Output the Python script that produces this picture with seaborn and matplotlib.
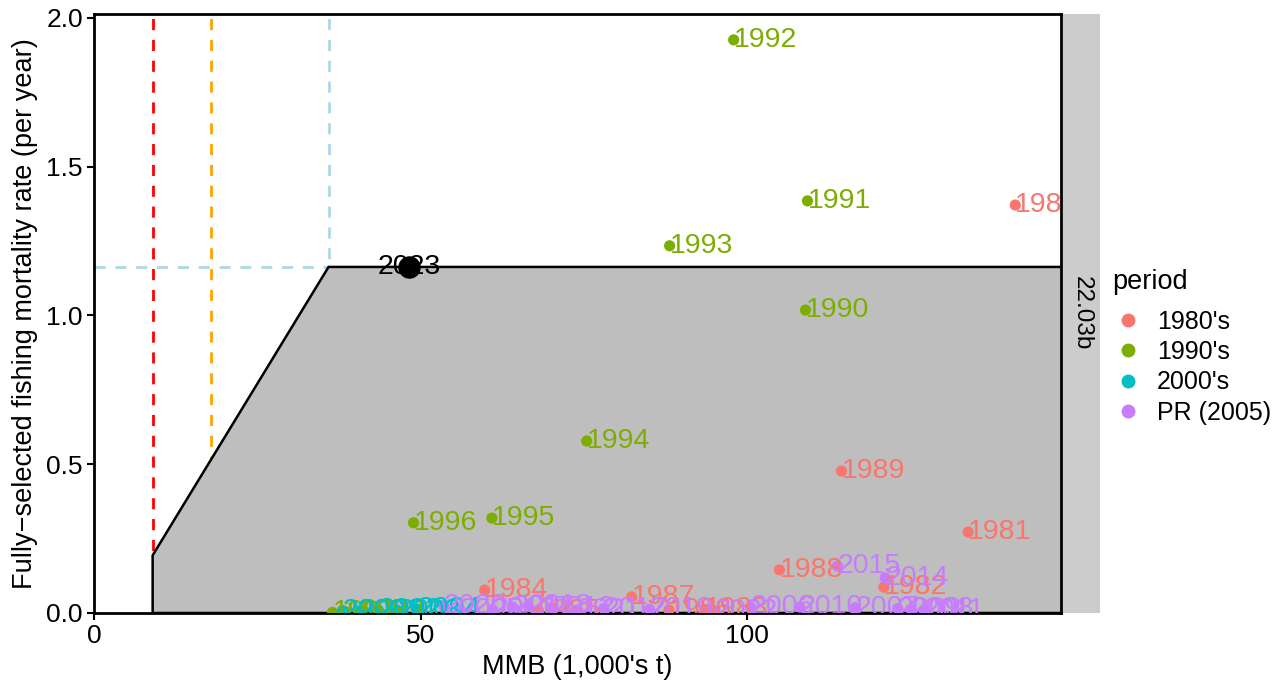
import matplotlib
matplotlib.use("Agg")
from matplotlib import pyplot as plt
from matplotlib.lines import Line2D
import seaborn as sns
import pandas as pd

years = list(range(1980, 2023))
mmb = [141.0, 133.8, 120.9, 93.5, 59.8, 68.0, 88.0, 82.3, 104.9, 114.4,
       108.9, 109.2, 97.9, 88.1, 75.4, 60.9, 48.9, 36.5, 38.5, 41.0,
       38.0, 40.5, 43.5, 46.5, 49.5,
       56.0, 100.5, 116.5, 125.0, 123.0, 108.0, 127.0, 70.0, 61.0, 121.1,
       113.8, 64.0, 78.0, 66.5, 85.0, 53.5, 74.0, 95.0]
fmort = [1.371, 0.272, 0.087, 0.012, 0.077, 0.008, 0.010, 0.054, 0.145, 0.477,
         1.018, 1.385, 1.926, 1.234, 0.578, 0.319, 0.303, 0.002, 0.004, 0.006,
         0.008, 0.006, 0.010, 0.008, 0.012,
         0.010, 0.020, 0.018, 0.012, 0.015, 0.020, 0.010, 0.018, 0.012, 0.118,
         0.158, 0.020, 0.015, 0.022, 0.012, 0.025, 0.010, 0.008]
period = ["1980's"] * 10 + ["1990's"] * 10 + ["2000's"] * 5 + ["PR (2005)"] * 18
period_order = ["1980's", "1990's", "2000's", "PR (2005)"]
period_colors = ["#F8766D", "#7CAE00", "#00BFC4", "#C77CFF"]

cur_year = 2023
cur_mmb = 48.2
cur_f = 1.163

bmsy = 35.9
fofl = 1.163
alpha = 0.1
beta = 0.25
xmax = 148.0

df = pd.DataFrame({"year": years, "mmb": mmb, "f": fmort, "period": period})
pal = dict(zip(period_order, period_colors))

plt.rcParams['font.family'] = ['Liberation Sans', 'DejaVu Sans']
fig = plt.figure(figsize=(12.84, 6.86), dpi=100)
ax = fig.add_axes([94 / 1284, 73 / 686, 967 / 1284, 599 / 686])

# reference lines
dash = (0, (4, 3.5))
ax.axvline(beta * bmsy, color='red', ls=dash, lw=2, zorder=1)
ax.axvline(0.5 * bmsy, color='orange', ls=dash, lw=2, zorder=1)
ax.axvline(bmsy, color='lightblue', ls=dash, lw=2, zorder=1)
ax.axhline(fofl, color='lightblue', ls=dash, lw=2, zorder=1)

# control rule polygon
f_beta = fofl * (beta - alpha) / (1 - alpha)
hcr_x = [beta * bmsy, beta * bmsy, bmsy, xmax + 5, xmax + 5]
hcr_y = [0, f_beta, fofl, fofl, 0]
ax.fill(hcr_x, hcr_y, facecolor='#BEBEBE', edgecolor='black', lw=1.8, zorder=2)

sns.scatterplot(data=df, x="mmb", y="f", hue="period", hue_order=period_order,
                palette=pal, s=65, edgecolor='none', ax=ax, zorder=4, legend=False)

for _, r in df.iterrows():
    ax.text(r.mmb, r.f, str(r.year), color=pal[r.period], fontsize=20.5,
            ha='left', va='center', clip_on=True, zorder=5)

ax.scatter([cur_mmb], [cur_f], s=230, color='black', zorder=6)
ax.text(cur_mmb, cur_f, str(cur_year), color='black', fontsize=20.5,
        ha='center', va='center', clip_on=True, zorder=7)

ax.set_xlim(0, xmax)
ax.set_ylim(0, 2.013)
ax.set_xticks([0, 50, 100])
ax.set_yticks([0.0, 0.5, 1.0, 1.5, 2.0])
ax.set_yticklabels(["0.0", "0.5", "1.0", "1.5", "2.0"])
ax.tick_params(labelsize=19, length=5, width=1.5, colors='black', pad=3)
for s in ax.spines.values():
    s.set_linewidth(2)
    s.set_color('black')
ax.set_xlabel("MMB (1,000's t)", fontsize=19.5, labelpad=4)
ax.set_ylabel("Fully\u2212selected fishing mortality rate (per year)", fontsize=19.5, labelpad=6)

# facet strip
sax = fig.add_axes([1063 / 1284, 73 / 686, 37 / 1284, 599 / 686])
sax.set_facecolor('#CCCCCC')
sax.set_xticks([])
sax.set_yticks([])
for s in sax.spines.values():
    s.set_visible(False)
sax.text(0.5, 0.5, "22.03b", rotation=270, ha='center', va='center',
         fontsize=17.5, transform=sax.transAxes)

# legend
fig.text(1112 / 1284, 1 - 282 / 686, "period", fontsize=19.5, ha='left', va='center')
handles = [Line2D([], [], marker='o', ls='', color=c, markersize=9) for c in period_colors]
fig.legend(handles, period_order, loc='upper left',
           bbox_to_anchor=(1115.5 / 1284, 1 - 310 / 686), frameon=False,
           fontsize=18, handlelength=1.0, handletextpad=0.66,
           labelspacing=0.25, borderpad=0, borderaxespad=0)

fig.savefig("out.png", dpi=100)
